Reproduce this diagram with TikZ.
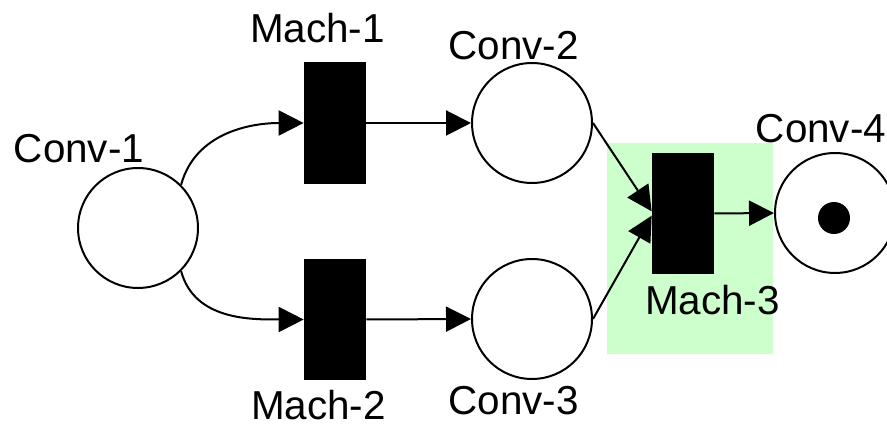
\documentclass[tikz,border=0pt]{standalone}
\usepackage{fontspec}
\setmainfont{Liberation Sans}
\usetikzlibrary{arrows.meta}
\definecolor{zoneGreen}{HTML}{CCFFCC}
\tikzset{
    place/.style={draw=black,fill=white,circle,line width=0.04cm,
        minimum size=2.4cm,inner sep=0pt},
    trans/.style={fill=black,minimum width=1.24cm,minimum height=2.44cm,inner sep=0pt},
    token/.style={fill=black,circle,minimum size=0.64cm,inner sep=0pt},
    zone/.style={fill=zoneGreen,minimum width=3.32cm,minimum height=4.22cm,inner sep=0pt},
    lbl/.style={font=\fontsize{23}{27}\selectfont,inner sep=0pt,anchor=base},
    arrow/.style={-{Triangle[length=0.5cm,width=0.5cm]},draw=black,line width=0.04cm}
}

\begin{document}
\begin{tikzpicture}[x=0.02cm,y=-0.02cm]
        \useasboundingbox (0,0) rectangle (887,425);

        \node[zone] (hl) at (690,248.5) {};

        \node[place] (c1) at (138,228) {};
        \node[trans] (m1) at (335,123) {};
        \node[trans] (m2) at (335,319.5) {};
        \node[place] (c2) at (532,123) {};
        \node[place] (c3) at (532,319) {};
        \node[trans] (m3) at (683,213.5) {};
        \node[place] (c4) at (835,213) {};
        \node[token] (tok) at (834,218) {};

        \node[lbl] (c1_lbl) at (79,163) {Conv-1};
        \node[lbl] (m1_lbl) at (317.5,43) {Mach-1};
        \node[lbl] (c2_lbl) at (513.5,60) {Conv-2};
        \node[lbl] (m2_lbl) at (318.5,420) {Mach-2};
        \node[lbl] (c3_lbl) at (513.5,415) {Conv-3};
        \node[lbl] (m3_lbl) at (712.5,315) {Mach-3};
        \node[lbl] (c4_lbl) at (821,143) {Conv-4};

        \draw[arrow] (c1.45) to[out=75,in=180] (m1.west);
        \draw[arrow] (c1.-45) to[out=-75,in=180] (m2.west);
        \draw[arrow] (m1.east) -- (c2.west);
        \draw[arrow] (m2.east) -- (c3.west);
        \draw[arrow] (c2.east) -- (m3.176);
        \draw[arrow] (c3.east) -- (m3.184);
        \draw[arrow] (m3.east) -- (c4.west);
    \end{tikzpicture}
\end{document}
